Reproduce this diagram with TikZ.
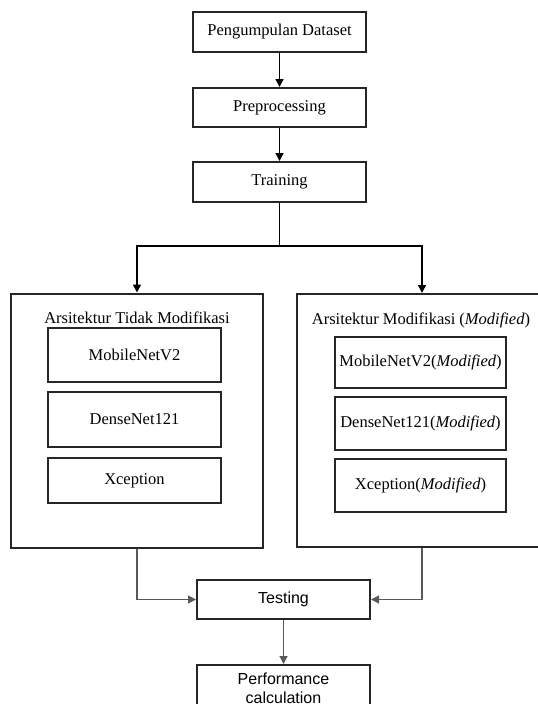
\documentclass[tikz,border=0pt]{standalone}
\usepackage{fontspec}
\setmainfont{Liberation Serif}
\newfontfamily\arialfont{Liberation Sans}
\usetikzlibrary{arrows.meta}
\tikzset{
  box/.style={draw=black!85, line width=2pt, fill=white, inner sep=1pt, align=center,
    font=\fontsize{16.5}{19}\selectfont},
  sbox/.style={box, font=\arialfont\fontsize{16}{20}\selectfont},
  big/.style={draw=black!85, line width=2pt, fill=white},
  ttl/.style={inner sep=0pt, font=\fontsize{16.5}{19}\selectfont},
  arr/.style={draw=black, line width=1.5pt, -{Triangle[width=8pt,length=8pt]}},
  arrg/.style={draw=black!65, line width=1.2pt, -{Triangle[width=8pt,length=8pt]}}
}
\begin{document}
\begin{tikzpicture}[x=1pt,y=-1pt]
\useasboundingbox (0,0) rectangle (538,704);
\clip (0,0) rectangle (538,704);
% top chain
\node[box, minimum width=173pt, minimum height=40pt] (p1) at (279.5,32) {Pengumpulan Dataset};
\node[box, minimum width=173pt, minimum height=39pt] (p2) at (279.5,107.5) {Preprocessing};
\node[box, minimum width=173pt, minimum height=40pt] (p3) at (279.5,182) {Training};
% big boxes
\node[big, minimum width=252pt, minimum height=254pt, inner sep=0pt] (L) at (137,420.5) {};
\node[big, minimum width=250pt, minimum height=253pt, inner sep=0pt] (R) at (422,420.5) {};
\node[ttl] (lt) at (137,318) {Arsitektur Tidak Modifikasi};
\node[ttl] (rt) at (421,320) {Arsitektur Modifikasi (\textit{Modified})};
% left inner
\node[box, minimum width=173pt, minimum height=54pt] (l1) at (134.5,355) {MobileNetV2};
\node[box, minimum width=173pt, minimum height=55pt] (l2) at (134.5,419.5) {DenseNet121};
\node[box, minimum width=173pt, minimum height=45pt] (l3) at (134.5,480.5) {Xception};
% right inner
\node[box, minimum width=171pt, minimum height=51pt] (r1) at (420.5,362.5) {MobileNetV2(\textit{Modified})};
\node[box, minimum width=171pt, minimum height=53pt] (r2) at (420.5,423.5) {DenseNet121(\textit{Modified})};
\node[box, minimum width=171pt, minimum height=53pt] (r3) at (420.5,485.5) {Xception(\textit{Modified})};
% bottom
\node[sbox, minimum width=173pt, minimum height=39pt] (t) at (283.5,599.5) {Testing};
\node[sbox, minimum width=173pt, minimum height=46pt, anchor=north,
      font=\arialfont\fontsize{16}{19}\selectfont] (pc) at (283.5,664) {Performance\\calculation};
% connectors
\draw[arr] (p1) -- (p2);
\draw[arr] (p2) -- (p3);
\coordinate (fork) at (279.5,246);
\draw[line width=1.5pt] (p3.south) -- (fork);
\draw[arr] (fork) -| (L.north);
\draw[arr] (fork) -| (R.north);
\draw[arrg] (L.south) |- (t.west);
\draw[arrg] (R.south) |- (t.east);
\draw[arrg] (t) -- (pc);
\end{tikzpicture}
\end{document}
